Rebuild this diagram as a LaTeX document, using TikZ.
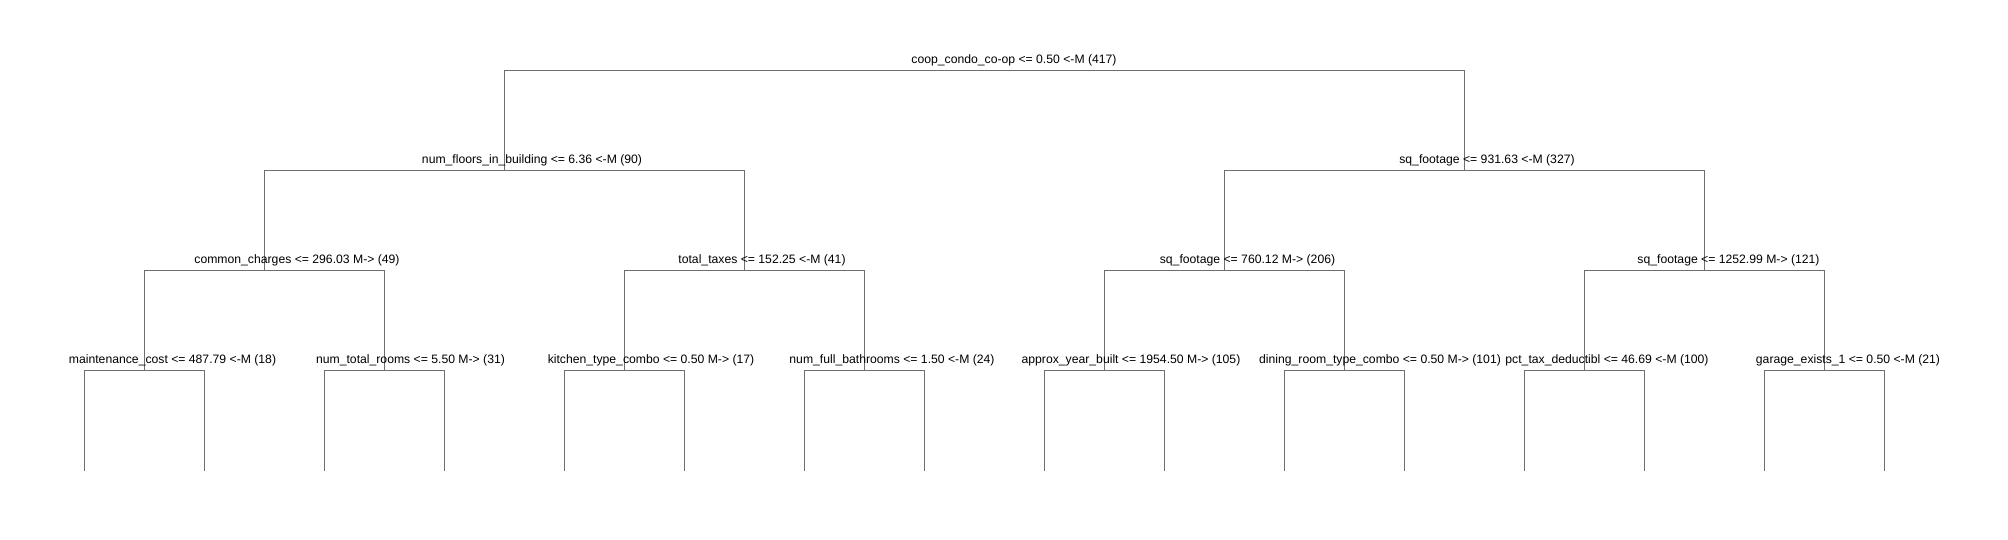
\documentclass[tikz,border=0pt]{standalone}
\usepackage{fontspec}
\setmainfont{Liberation Sans}
\definecolor{edgegray}{RGB}{110,110,110}
\tikzset{
  edge/.style={draw=edgegray, line width=1pt},
  lab/.style={anchor=base, inner sep=0pt, font=\fontsize{12.2}{14}\selectfont}
}
\begin{document}
\begin{tikzpicture}[x=1pt,y=-1pt]
\useasboundingbox[fill=white] (0,0) rectangle (2008,540);
% internal nodes
\coordinate (n1) at (984.5,70.5);
\coordinate (n2) at (504.5,170.5);
\coordinate (n3) at (1464.5,170.5);
\coordinate (n4) at (264.5,270.5);
\coordinate (n5) at (744.5,270.5);
\coordinate (n6) at (1224.5,270.5);
\coordinate (n7) at (1704.5,270.5);
\foreach \i/\x in {8/144.5,9/384.5,10/624.5,11/864.5,12/1104.5,13/1344.5,14/1584.5,15/1824.5}
  \coordinate (n\i) at (\x,370.5);
\foreach \i in {0,...,15}
  \coordinate (l\i) at ({84.5+120*\i},470.5);
% connectors
\draw[edge] (n2) |- (n1) -| (n3);
\draw[edge] (n4) |- (n2) -| (n5);
\draw[edge] (n6) |- (n3) -| (n7);
\draw[edge] (n8) |- (n4) -| (n9);
\draw[edge] (n10) |- (n5) -| (n11);
\draw[edge] (n12) |- (n6) -| (n13);
\draw[edge] (n14) |- (n7) -| (n15);
\draw[edge] (l0) |- (n8) -| (l1);
\draw[edge] (l2) |- (n9) -| (l3);
\draw[edge] (l4) |- (n10) -| (l5);
\draw[edge] (l6) |- (n11) -| (l7);
\draw[edge] (l8) |- (n12) -| (l9);
\draw[edge] (l10) |- (n13) -| (l11);
\draw[edge] (l12) |- (n14) -| (l13);
\draw[edge] (l14) |- (n15) -| (l15);
% labels
\node[lab] (t1) at (1014,63.5) {coop\_condo\_co-op <= 0.50 <-M (417)};
\node[lab] (t2) at (532,163.5) {num\_floors\_in\_building <= 6.36 <-M (90)};
\node[lab] (t3) at (1487,163.5) {sq\_footage <= 931.63 <-M (327)};
\node[lab] (t4) at (297,263.5) {common\_charges <= 296.03 M-> (49)};
\node[lab] (t5) at (762,263.5) {total\_taxes <= 152.25 <-M (41)};
\node[lab] (t6) at (1247.5,263.5) {sq\_footage <= 760.12 M-> (206)};
\node[lab] (t7) at (1728.5,263.5) {sq\_footage <= 1252.99 M-> (121)};
\node[lab] (t8) at (172.5,363.5) {maintenance\_cost <= 487.79 <-M (18)};
\node[lab] (t9) at (410.5,363.5) {num\_total\_rooms <= 5.50 M-> (31)};
\node[lab] (t10) at (651,363.5) {kitchen\_type\_combo <= 0.50 M-> (17)};
\node[lab] (t11) at (892,363.5) {num\_full\_bathrooms <= 1.50 <-M (24)};
\node[lab] (t12) at (1131,363.5) {approx\_year\_built <= 1954.50 M-> (105)};
\node[lab] (t13) at (1380,363.5) {dining\_room\_type\_combo <= 0.50 M-> (101)};
\node[lab] (t14) at (1607,363.5) {pct\_tax\_deductibl <= 46.69 <-M (100)};
\node[lab] (t15) at (1848,363.5) {garage\_exists\_1 <= 0.50 <-M (21)};
\end{tikzpicture}
\end{document}
